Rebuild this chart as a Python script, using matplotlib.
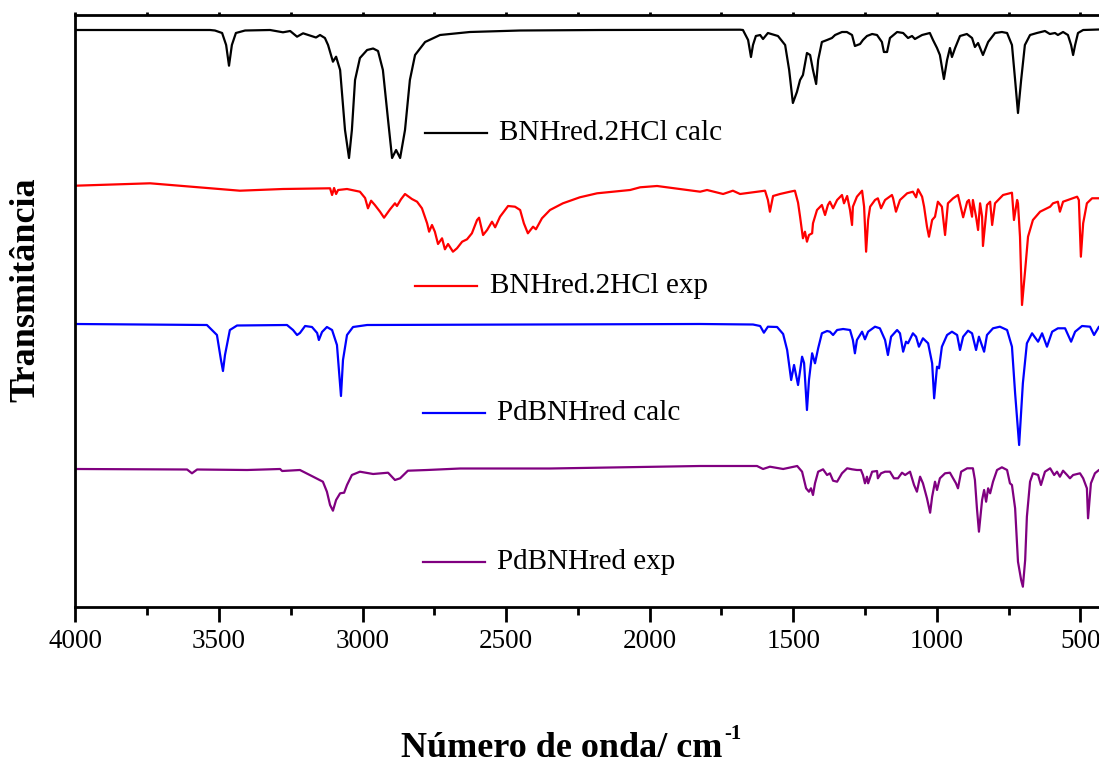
import numpy as np
import matplotlib
matplotlib.use("Agg")
import matplotlib.pyplot as plt

plt.rcParams['font.family'] = ['Liberation Serif', 'DejaVu Serif']

# spectra: (wavenumber cm-1, transmittance a.u. relative to own baseline)
bnh_calc = [(4000, 0), (3740, 0), (3531, 0), (3514, -0.5), (3489, -3), (3475, -15), (3465, -35.7),
            (3455, -15), (3441, -3), (3409, -0.5), (3322, 0), (3277, -2.3), (3252, -1), (3228, -6.7),
            (3207, -3.3), (3162, -7.5), (3148, -5), (3131, -8), (3120, -15), (3103, -31.7), (3092, -26.7),
            (3078, -40), (3061, -100), (3047, -128), (3037, -100), (3026, -50), (3009, -28), (2984, -20),
            (2963, -18.5), (2946, -21), (2929, -40), (2911, -90), (2897, -128), (2883, -120), (2869, -128),
            (2852, -100), (2835, -50), (2817, -25), (2782, -12), (2730, -5), (2626, -2), (2451, -0.5),
            (2173, 0), (1685, 0.3), (1675, 0), (1657, -10), (1647, -27), (1640, -15), (1630, -6),
            (1615, -5), (1605, -9), (1588, -3), (1553, -6), (1528, -15), (1514, -40), (1501, -73),
            (1487, -62), (1476, -50), (1466, -45), (1452, -23), (1441, -25), (1431, -40), (1420, -54),
            (1413, -30), (1400, -12), (1382, -10), (1365, -8), (1354, -5), (1330, -2), (1313, -2),
            (1295, -5), (1285, -16), (1267, -14), (1257, -10), (1243, -6), (1225, -4), (1208, -5),
            (1191, -12), (1184, -22), (1173, -22), (1163, -8), (1138, -2), (1117, -3), (1100, -8),
            (1086, -6), (1076, -9), (1051, -5), (1024, -3), (1013, -10), (999, -18), (989, -25),
            (975, -49), (964, -30), (954, -18), (947, -27), (936, -18), (919, -6), (895, -4), (877, -8),
            (867, -17), (856, -13), (839, -25), (821, -12), (797, -3), (773, -2), (755, -3), (738, -15),
            (727, -50), (717, -83), (706, -50), (693, -15), (675, -5), (651, -3), (623, -1), (606, -4),
            (588, -3), (578, -5), (560, -2), (543, -5), (532, -15), (525, -25), (518, -15), (508, -3),
            (490, 0), (435, 0.5), (400, 0.5)]

bnh_exp = [(4000, -0.7), (3740, 1.7), (3427, -5.7), (3277, -4), (3113, -3.3), (3106, -10), (3099, -3),
           (3092, -9), (3085, -5), (3054, -4), (3009, -6.7), (2991, -13), (2981, -23.3), (2970, -15.7),
           (2957, -20), (2939, -26.7), (2925, -32.7), (2904, -24.3), (2887, -18.3), (2880, -21),
           (2866, -14.3), (2852, -9), (2828, -14), (2810, -16.7), (2793, -23.3), (2775, -38.3),
           (2768, -46.7), (2758, -40), (2748, -46.7), (2737, -59), (2723, -53.3), (2713, -64.3),
           (2702, -59), (2685, -66.7), (2671, -63.3), (2653, -56.7), (2636, -54.3), (2619, -48.3),
           (2601, -35), (2594, -32.7), (2580, -50), (2566, -45), (2549, -36.7), (2538, -42.3),
           (2521, -31.7), (2493, -21), (2469, -21.7), (2451, -25), (2438, -38.3), (2424, -48.3),
           (2406, -41.7), (2396, -44.3), (2375, -33.3), (2347, -25), (2302, -18.3), (2243, -12.3),
           (2183, -8.3), (2128, -6.7), (2068, -5), (2033, -2.3), (1974, -1), (1894, -4), (1824, -6.7),
           (1800, -5), (1744, -9), (1710, -5.7), (1685, -9), (1598, -5.7), (1588, -15), (1581, -26.7),
           (1570, -11), (1546, -9), (1511, -6.7), (1494, -5.7), (1483, -17.7), (1476, -31.7),
           (1466, -53.3), (1459, -46.7), (1452, -56.7), (1445, -50), (1434, -48.3), (1431, -38.3),
           (1417, -25), (1400, -20), (1389, -30), (1379, -20), (1372, -16.7), (1361, -23.3), (1347, -15),
           (1330, -10), (1323, -18.3), (1312, -11), (1302, -25), (1295, -40), (1292, -21.7),
           (1278, -11.7), (1260, -5.7), (1253, -21.7), (1246, -66.7), (1239, -35), (1232, -21.7),
           (1215, -15), (1205, -13.3), (1194, -23.3), (1180, -15), (1156, -10), (1152, -13.3),
           (1142, -26.7), (1128, -15), (1103, -8.3), (1083, -6.7), (1072, -12.3), (1065, -4.3),
           (1051, -11.7), (1044, -21.7), (1034, -41.7), (1027, -51.7), (1016, -35), (1006, -31.7),
           (996, -16.7), (982, -21.7), (971, -50), (961, -18.3), (943, -13.3), (926, -10), (908, -32.3),
           (894, -16.7), (888, -15), (877, -31.7), (874, -15), (863, -31.7), (856, -45), (849, -18.3),
           (842, -31.7), (839, -61), (825, -20), (814, -16.7), (807, -40), (797, -18.3), (769, -10),
           (738, -7.7), (731, -35), (720, -15), (717, -18.3), (710, -51.7), (703, -120), (692, -85),
           (682, -51.7), (665, -35), (640, -26.7), (605, -21.7), (595, -18.3), (578, -16.7),
           (571, -26.7), (560, -16.7), (511, -11.7), (505, -15), (498, -71.7), (490, -38.3),
           (477, -18.3), (459, -13.3), (435, -13.3), (400, -13)]

pd_calc = [(4000, 0), (3542, -1), (3507, -11), (3493, -36), (3486, -47), (3479, -31), (3462, -6),
           (3437, -1.5), (3263, -1), (3242, -6), (3228, -11), (3218, -9), (3200, -2), (3176, -3),
           (3158, -9), (3152, -16), (3141, -8), (3124, -3), (3106, -6), (3089, -21), (3075, -72),
           (3068, -36), (3054, -11), (3033, -3), (2984, -1), (1824, 0), (1640, -0.5), (1615, -2),
           (1602, -8.7), (1588, -2.7), (1556, -3), (1535, -10), (1521, -26), (1507, -56), (1497, -41),
           (1483, -61), (1469, -32.7), (1462, -39), (1452, -86), (1445, -56), (1434, -29.3),
           (1424, -39.3), (1413, -24.3), (1400, -9.3), (1382, -7), (1372, -7.7), (1361, -11),
           (1347, -6), (1326, -5), (1302, -6), (1292, -16), (1285, -29.3), (1278, -16), (1260, -7.7),
           (1250, -15.3), (1239, -7.7), (1215, -2.7), (1198, -4.3), (1180, -16), (1170, -31),
           (1159, -12.7), (1138, -6), (1128, -9.3), (1117, -27.7), (1107, -17.7), (1100, -19.3),
           (1083, -9.3), (1072, -12.7), (1062, -22.7), (1048, -14.3), (1030, -19.3), (1016, -39.3),
           (1009, -74.3), (999, -42.7), (992, -44.3), (982, -22.7), (964, -11), (947, -7.7),
           (929, -11), (919, -26), (908, -12.7), (891, -6.7), (877, -9.3), (863, -26), (853, -12.7),
           (835, -27.7), (825, -11), (804, -4.3), (780, -2.7), (755, -6), (738, -22.7), (727, -69.3),
           (713, -121), (700, -59.3), (686, -19.3), (668, -9.3), (647, -17.7), (633, -9.3),
           (616, -22.7), (598, -7.7), (578, -4.3), (553, -4.3), (532, -17.7), (518, -7.7), (494, -2),
           (466, -2.7), (452, -11), (435, -2.7), (400, -2)]

pd_exp = [(4000, 0), (3611, -0.5), (3594, -4.3), (3576, -0.5), (3402, -1), (3287, 0), (3280, -2),
          (3218, -1), (3172, -7.7), (3138, -12.7), (3124, -22.7), (3113, -36), (3103, -41.7),
          (3092, -31), (3078, -24.3), (3064, -23.7), (3054, -16), (3037, -6), (3009, -2.7), (2963, -5),
          (2911, -3.7), (2887, -11), (2869, -9.3), (2842, -1.7), (2775, -1), (2660, 0.5), (2347, 0.5),
          (2033, 2), (1824, 3), (1626, 3), (1605, 0), (1581, 2.3), (1535, 0), (1486, 3), (1469, -2.7),
          (1455, -19.3), (1445, -22.7), (1438, -19.3), (1431, -26), (1424, -14.3), (1413, -2.7),
          (1396, -0.3), (1382, -6), (1372, -4.3), (1361, -11.7), (1347, -12.7), (1330, -4.3),
          (1312, 0.7), (1295, -0.3), (1278, -1), (1264, -1), (1257, -6), (1250, -14.3), (1243, -7.7),
          (1239, -14.3), (1225, -2.7), (1208, -2), (1205, -9.3), (1194, -4.3), (1180, -2.7),
          (1163, -2.7), (1149, -9.3), (1135, -9.3), (1121, -3.7), (1110, -6), (1093, -2.7),
          (1079, -16), (1069, -22.7), (1058, -7.7), (1048, -14.3), (1034, -29.3), (1023, -43.7),
          (1016, -27.7), (1006, -12.7), (999, -21), (989, -9.3), (971, -4.3), (954, -3.7), (943, -9.3),
          (933, -14.3), (926, -19.3), (915, -2.7), (894, 0.7), (874, 0.7), (867, -11), (860, -39.3),
          (853, -62.7), (842, -31), (835, -21), (828, -32.7), (821, -19.3), (814, -24.3), (804, -12.7),
          (790, -1), (773, 1.7), (755, -1), (745, -14.3), (738, -16), (727, -39.3), (717, -92.7),
          (706, -111), (700, -117.7), (692, -91), (686, -47.7), (675, -12.7), (665, -4.3), (647, -6),
          (637, -16), (623, -2.7), (605, 0.7), (591, -6), (581, -2.7), (571, -7.7), (560, -1.7),
          (546, -6), (536, -9.3), (525, -6), (501, -4.3), (490, -9.3), (477, -19.3), (473, -49.3),
          (463, -14.3), (449, -4.3), (435, -1), (400, 0)]

series = [bnh_calc, bnh_exp, pd_calc, pd_exp]
labels = ['BNHred.2HCl calc', 'BNHred.2HCl exp', 'PdBNHred calc', 'PdBNHred exp']
offsets = [577, 422, 283, 138]
colors = ['#000000', '#ff0000', '#0000ff', '#800080']

fig = plt.figure(figsize=(10.99, 7.65), dpi=100)
ax = fig.add_axes([75.4 / 1099, 1 - 607 / 765, 1033.6 / 1099, 592 / 765])

for data, off, c in zip(series, offsets, colors):
    d = np.array(data)
    ax.plot(d[:, 0], d[:, 1] + off, color=c, lw=1.6)

# legend-like labels next to each trace
leg_pos = [(0.338, 0.801), (0.329, 0.542), (0.336, 0.328), (0.336, 0.076)]
for (lx, ly), lab, c in zip(leg_pos, labels, colors):
    ax.plot([lx, lx + 0.06], [ly, ly], color=c, lw=1.6, transform=ax.transAxes)
    ax.text(lx + 0.072, ly, lab, transform=ax.transAxes, fontsize=21,
            va='center', ha='left')

ax.set_xlim(4000, 400)
ax.set_ylim(0, 592)
ax.set_xticks([4000, 3500, 3000, 2500, 2000, 1500, 1000, 500])
ax.set_xticks(np.arange(3750, 400, -250), minor=True)
ax.set_yticks([])
for s in ax.spines.values():
    s.set_linewidth(2)
ax.tick_params(axis='x', which='major', direction='out', length=11, width=2,
               labelsize=19.5, pad=5, top=True)
ax.tick_params(axis='x', which='minor', direction='out', length=5.5, width=2, top=True)
for t in ax.xaxis.get_major_ticks() + ax.xaxis.get_minor_ticks():
    t.tick2line.set_markersize(2)

# x label with a small raised "-1"
fig.text(722 / 1099, 8 / 765, 'Número de onda/ cm', fontsize=26,
         fontweight='bold', ha='right', va='baseline')
fig.text(724 / 1099, 26 / 765, '-1', fontsize=15,
         fontweight='bold', ha='left', va='baseline')
fig.text(26 / 1099, 1 - 290 / 765, 'Transmitância', fontsize=26, fontweight='bold',
         rotation=90, ha='center', va='center')

fig.savefig('out.png', dpi=100)
